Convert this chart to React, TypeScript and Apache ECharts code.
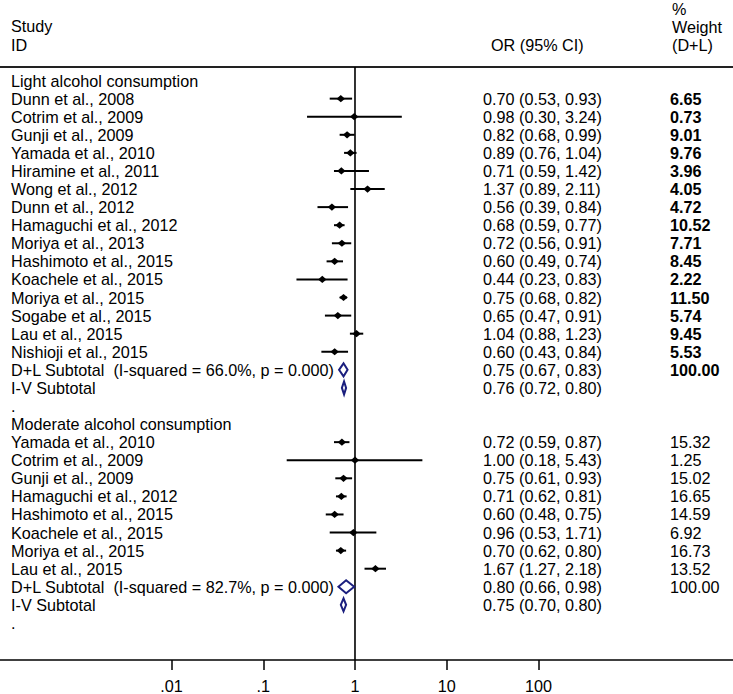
import React, { useEffect, useRef } from "react";
import * as echarts from "echarts";

// ---------- data ----------
const lightTitle = "Light alcohol consumption";
const lightStudies = [
  "Dunn et al., 2008",
  "Cotrim et al., 2009",
  "Gunji et al., 2009",
  "Yamada et al., 2010",
  "Hiramine et al., 2011",
  "Wong et al., 2012",
  "Dunn et al., 2012",
  "Hamaguchi et al., 2012",
  "Moriya et al., 2013",
  "Hashimoto et al., 2015",
  "Koachele et al., 2015",
  "Moriya et al., 2015",
  "Sogabe et al., 2015",
  "Lau et al., 2015",
  "Nishioji et al., 2015",
];
const lightOR = [0.7, 0.98, 0.82, 0.89, 0.71, 1.37, 0.56, 0.68, 0.72, 0.6, 0.44, 0.75, 0.65, 1.04, 0.6];
const lightLo = [0.53, 0.3, 0.68, 0.76, 0.59, 0.89, 0.39, 0.59, 0.56, 0.49, 0.23, 0.68, 0.47, 0.88, 0.43];
const lightHi = [0.93, 3.24, 0.99, 1.04, 1.42, 2.11, 0.84, 0.77, 0.91, 0.74, 0.83, 0.82, 0.91, 1.23, 0.84];
const lightWeight = [6.65, 0.73, 9.01, 9.76, 3.96, 4.05, 4.72, 10.52, 7.71, 8.45, 2.22, 11.5, 5.74, 9.45, 5.53];
const lightDL = { label: "D+L Subtotal  (I-squared = 66.0%, p = 0.000)", or: 0.75, lo: 0.67, hi: 0.83, weight: 100.0 };
const lightIV = { label: "I-V Subtotal", or: 0.76, lo: 0.72, hi: 0.8 };

const moderateTitle = "Moderate alcohol consumption";
const moderateStudies = [
  "Yamada et al., 2010",
  "Cotrim et al., 2009",
  "Gunji et al., 2009",
  "Hamaguchi et al., 2012",
  "Hashimoto et al., 2015",
  "Koachele et al., 2015",
  "Moriya et al., 2015",
  "Lau et al., 2015",
];
const moderateOR = [0.72, 1.0, 0.75, 0.71, 0.6, 0.96, 0.7, 1.67];
const moderateLo = [0.59, 0.18, 0.61, 0.62, 0.48, 0.53, 0.62, 1.27];
const moderateHi = [0.87, 5.43, 0.93, 0.81, 0.75, 1.71, 0.8, 2.18];
const moderateWeight = [15.32, 1.25, 15.02, 16.65, 14.59, 6.92, 16.73, 13.52];
const moderateDL = { label: "D+L Subtotal  (I-squared = 82.7%, p = 0.000)", or: 0.8, lo: 0.66, hi: 0.98, weight: 100.0 };
const moderateIV = { label: "I-V Subtotal", or: 0.75, lo: 0.7, hi: 0.8 };

const tickValues = [0.01, 0.1, 1, 10, 100];
const tickLabels = [".01", ".1", "1", "10", "100"];

// ---------- table built from the arrays ----------
type Row = {
  label: string;
  kind: "header" | "study" | "dl" | "iv" | "blank";
  or?: number;
  lo?: number;
  hi?: number;
  weight?: number;
  bold?: boolean;
};

function buildSection(
  title: string,
  names: string[],
  ors: number[],
  los: number[],
  his: number[],
  ws: number[],
  dl: any,
  iv: any,
  bold: boolean
): Row[] {
  const out: Row[] = [{ label: title, kind: "header" }];
  names.forEach((n, i) =>
    out.push({ label: n, kind: "study", or: ors[i], lo: los[i], hi: his[i], weight: ws[i], bold })
  );
  out.push({ label: dl.label, kind: "dl", or: dl.or, lo: dl.lo, hi: dl.hi, weight: dl.weight, bold });
  out.push({ label: iv.label, kind: "iv", or: iv.or, lo: iv.lo, hi: iv.hi });
  out.push({ label: ".", kind: "blank" });
  return out;
}

const rows: Row[] = [
  ...buildSection(lightTitle, lightStudies, lightOR, lightLo, lightHi, lightWeight, lightDL, lightIV, true),
  ...buildSection(moderateTitle, moderateStudies, moderateOR, moderateLo, moderateHi, moderateWeight, moderateDL, moderateIV, false),
];

const L = Math.log10;
const FONT = "'Liberation Sans', Arial, Helvetica, sans-serif";
const FS = 16.2;
const NAVY = "#1b1f7e";
const Y_MIN = -0.75;
const Y_MAX = 32.05;
const X_MIN = -3.871;
const X_MAX = 4.122;

export default function App() {
  const ref = useRef<HTMLDivElement>(null);

  useEffect(() => {
    if (!ref.current) return;
    const chart = echarts.init(ref.current, undefined, { renderer: "svg" });

    const studyData = rows
      .map((r, i) => (r.kind === "study" ? [L(r.or!), i, L(r.lo!), L(r.hi!)] : null))
      .filter(Boolean);
    const subData = rows
      .map((r, i) => (r.kind === "dl" || r.kind === "iv" ? [L(r.or!), i, L(r.lo!), L(r.hi!)] : null))
      .filter(Boolean);
    const textData = rows.map((r, i) => [0, i]);

    const tickLogs = tickValues.map((v) => L(v));

    const txt = (text: string, x: number, y: number, bold = false) => ({
      type: "text",
      x,
      y,
      style: {
        text,
        fill: "#000",
        fontSize: FS,
        fontFamily: FONT,
        fontWeight: bold ? "bold" : "normal",
        align: "left",
        verticalAlign: "middle",
      },
    });

    const option: any = {
      animation: false,
      backgroundColor: "#fff",
      grid: { left: 0, right: 0, top: 67, bottom: 33, containLabel: false },
      xAxis: [
        {
          type: "value",
          min: X_MIN,
          max: X_MAX,
          position: "bottom",
          axisLine: { show: true, onZero: false, lineStyle: { color: "#000", width: 1.5 } },
          axisTick: {
            show: true,
            customValues: tickLogs,
            length: 10,
            lineStyle: { color: "#000", width: 1.5 },
          },
          axisLabel: {
            show: true,
            customValues: tickLogs,
            margin: 18,
            color: "#000",
            fontSize: FS,
            fontFamily: FONT,
            formatter: (v: number) => {
              const k = tickLogs.findIndex((t) => Math.abs(t - v) < 1e-6);
              return k >= 0 ? tickLabels[k] : "";
            },
          },
          splitLine: { show: false },
        },
        {
          type: "value",
          min: X_MIN,
          max: X_MAX,
          position: "top",
          axisLine: { show: true, onZero: false, lineStyle: { color: "#222", width: 2 } },
          axisTick: { show: false },
          axisLabel: { show: false },
          splitLine: { show: false },
        },
      ],
      yAxis: {
        type: "value",
        min: Y_MIN,
        max: Y_MAX,
        inverse: true,
        show: false,
        splitLine: { show: false },
      },
      graphic: [
        txt("Study", 11, 26),
        txt("ID", 11, 45),
        txt("OR (95% CI)", 491, 45),
        txt("%", 672, 9),
        txt("Weight", 672, 27),
        txt("(D+L)", 672, 45),
      ],
      series: [
        {
          type: "line",
          xAxisIndex: 0,
          data: [
            [0, Y_MIN],
            [0, Y_MAX],
          ],
          symbol: "none",
          silent: true,
          lineStyle: { color: "#000", width: 1.6 },
          z: 1,
        },
        {
          type: "custom",
          xAxisIndex: 0,
          data: studyData,
          encode: { x: [0, 2, 3], y: 1 },
          silent: true,
          z: 3,
          renderItem: (params: any, api: any) => {
            const row = api.value(1);
            const pE = api.coord([api.value(0), row]);
            const pL = api.coord([api.value(2), row]);
            const pH = api.coord([api.value(3), row]);
            return {
              type: "group",
              children: [
                {
                  type: "line",
                  shape: { x1: pL[0], y1: pL[1], x2: pH[0], y2: pH[1] },
                  style: { stroke: "#000", lineWidth: 2 },
                },
                {
                  type: "polygon",
                  shape: {
                    points: [
                      [pE[0] - 4.2, pE[1]],
                      [pE[0], pE[1] - 3.6],
                      [pE[0] + 4.2, pE[1]],
                      [pE[0], pE[1] + 3.6],
                    ],
                  },
                  style: { fill: "#000" },
                },
              ],
            };
          },
        },
        {
          type: "custom",
          xAxisIndex: 0,
          data: subData,
          encode: { x: [0, 2, 3], y: 1 },
          silent: true,
          z: 4,
          renderItem: (params: any, api: any) => {
            const row = api.value(1);
            const pE = api.coord([api.value(0), row]);
            const pL = api.coord([api.value(2), row]);
            const pH = api.coord([api.value(3), row]);
            const h = 6.5;
            return {
              type: "polygon",
              shape: {
                points: [
                  [pL[0], pE[1]],
                  [pE[0], pE[1] - h],
                  [pH[0], pE[1]],
                  [pE[0], pE[1] + h],
                ],
              },
              style: { fill: "#fff", stroke: NAVY, lineWidth: 2 },
            };
          },
        },
        {
          type: "custom",
          xAxisIndex: 0,
          data: textData,
          encode: { x: 0, y: 1 },
          silent: true,
          z: 2,
          renderItem: (params: any, api: any) => {
            const r = rows[params.dataIndex];
            const y = api.coord([0, api.value(1)])[1];
            const children: any[] = [txt(r.label, 11, y)];
            if (r.or !== undefined) {
              children.push(
                txt(`${r.or.toFixed(2)} (${r.lo!.toFixed(2)}, ${r.hi!.toFixed(2)})`, 483, y)
              );
            }
            if (r.weight !== undefined) {
              children.push(txt(r.weight.toFixed(2), 670, y, !!r.bold));
            }
            return { type: "group", children };
          },
        },
      ],
    };

    chart.setOption(option);
    return () => chart.dispose();
  }, []);

  return (
    <div
      ref={ref}
      style={{ position: "absolute", left: 0, top: 0, width: 733, height: 694, background: "#fff" }}
    />
  );
}
